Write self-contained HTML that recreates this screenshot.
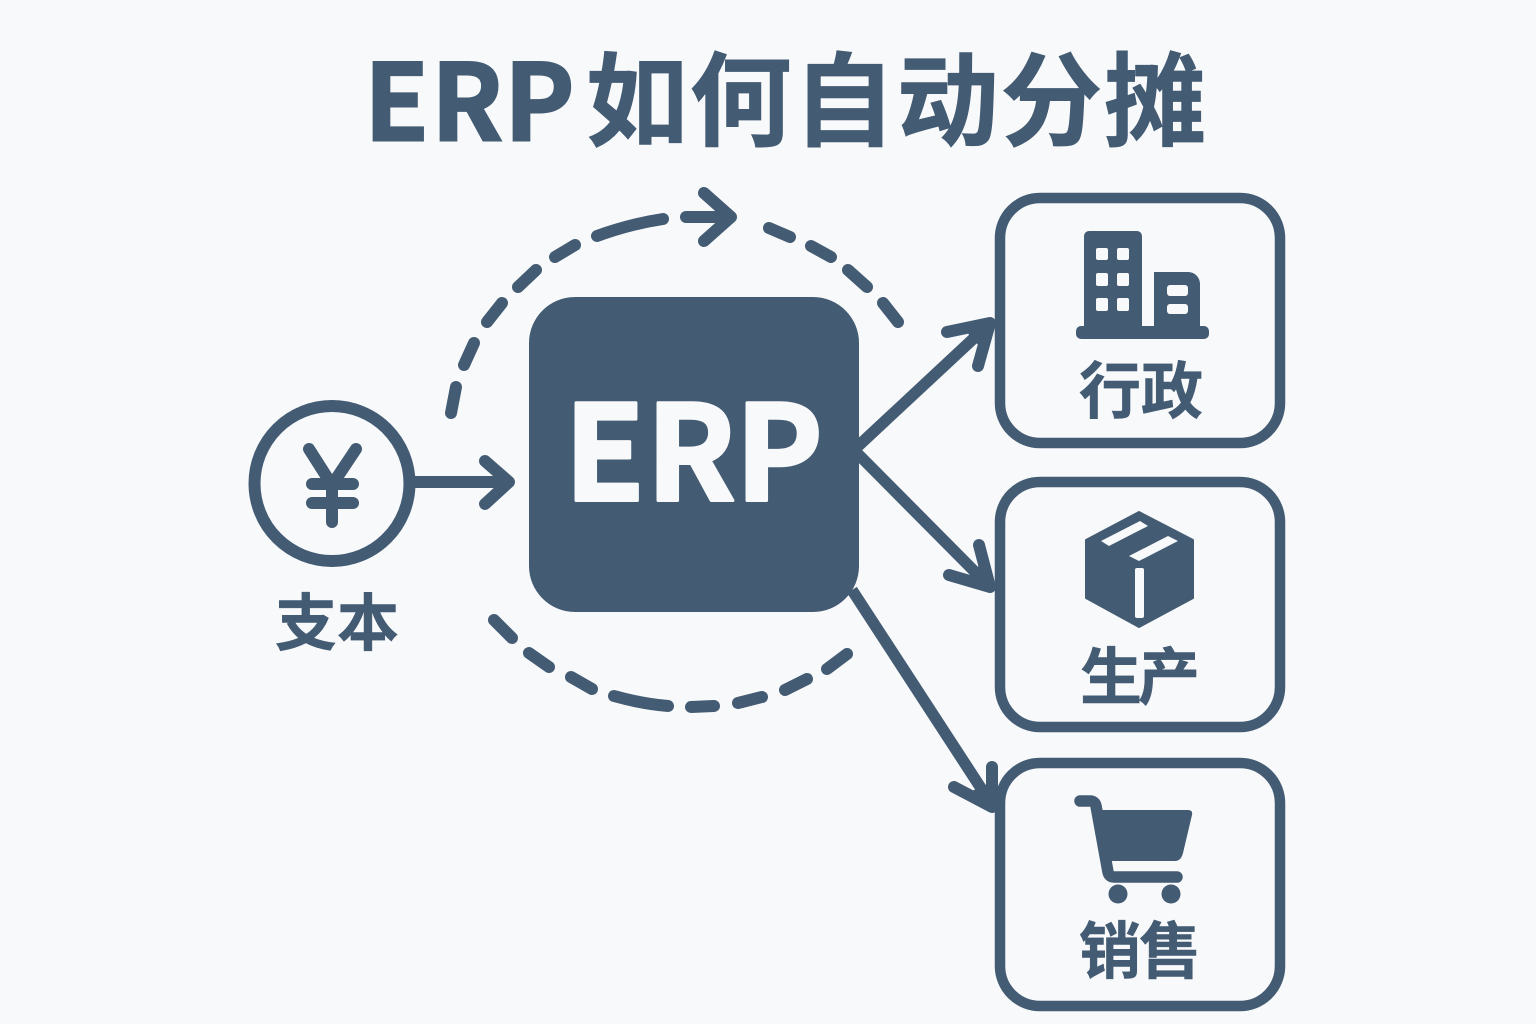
<!DOCTYPE html>
<html>
<head>
<meta charset="utf-8">
<style>
html,body{margin:0;padding:0;background:#f8f9fa;}
svg{display:block;}
text{font-family:"Noto Sans CJK SC","Liberation Sans",sans-serif;font-weight:700;fill:#435b73;stroke:#435b73;stroke-width:0.5;}
</style>
</head>
<body>
<svg width="1536" height="1024" viewBox="0 0 1536 1024" xmlns="http://www.w3.org/2000/svg">
<rect width="1536" height="1024" fill="#f8f9fa"/>
<!-- Title -->
<text y="140.5" font-size="106" x="364 431 504" style="stroke-width:2">ERP</text>
<text x="586" y="138" font-size="102" textLength="620" lengthAdjust="spacing" style="stroke-width:0.8">如何自动分摊</text>

<!-- ERP box -->
<rect x="529" y="297" width="330" height="315" rx="46" fill="#435b73"/>
<text y="500.5" font-size="132" x="564 646 735" style="fill:#f8f9fa;stroke:#f8f9fa;stroke-width:3;stroke-linejoin:round">ERP</text>

<!-- Yen circle -->
<circle cx="332" cy="483.5" r="77.5" fill="none" stroke="#435b73" stroke-width="12"/>
<g stroke="#435b73" stroke-width="12" fill="none" stroke-linecap="round" stroke-linejoin="round">
  <path d="M309 449L332 485L356 449M332 485V522M312 484H353M312 503H353"/>
</g>
<text x="337" y="645" font-size="62" text-anchor="middle" textLength="124" lengthAdjust="spacing">支本</text>

<g fill="none" stroke="#435b73" stroke-linecap="round" stroke-linejoin="round" stroke-width="12">
  <!-- input arrow -->
  <path d="M415 482H508"/>
  <path d="M485 461L509 482L485 504"/>
  <!-- upper arc dashes -->
  <path d="M451 413L456 387"/>
  <path d="M464 365L474 343"/>
  <path d="M487 322L502 303"/>
  <path d="M518 287L536 270"/>
  <path d="M555 257L575 245"/>
  <path d="M597 236Q630 224 663 219"/>
  <path d="M686 217H728"/>
  <path d="M704 193L731 217L704 241"/>
  <path d="M769 228L790 237"/>
  <path d="M811 246L831 257"/>
  <path d="M848 270L867 287"/>
  <path d="M883 303L898 322"/>
  <!-- lower arc dashes -->
  <path d="M494 620L512 638"/>
  <path d="M529 653L549 667"/>
  <path d="M571 677L592 689"/>
  <path d="M614 696Q643 704 668 706"/>
  <path d="M691 707L714 706"/>
  <path d="M738 703L762 697"/>
  <path d="M785 690L807 679"/>
  <path d="M827 669L847 654"/>
  <!-- outgoing arrows -->
  <path d="M855 449L987 326" stroke-linecap="butt" stroke-width="11.5"/>
  <path d="M947 332L990 323L978 366"/>
  <path d="M855 451L988 585" stroke-linecap="butt" stroke-width="11.5"/>
  <path d="M949 575L990 587L979 545"/>
  <path d="M852 590L990 802" stroke-linecap="butt" stroke-width="11.5"/>
  <path d="M954 787L992 807L992 767"/>
</g>

<!-- Right boxes -->
<g fill="#f8f9fa" stroke="#435b73" stroke-width="10.5">
  <rect x="1000" y="198" width="280" height="245" rx="40"/>
  <rect x="1000" y="482" width="280" height="245" rx="40"/>
  <rect x="1000" y="763" width="280" height="243" rx="40"/>
</g>
<!-- Filled arrow tips merging with the box edge -->
<g fill="#435b73" stroke="#435b73" stroke-linejoin="round" stroke-width="6">
  <path d="M968 329L992 323L985 348Z"/>
  <path d="M968 581L992 589L985 564Z"/>
  <path d="M970 795L994 809L993 785Z"/>
</g>

<!-- Building -->
<path d="M1084 328V236a5 5 0 0 1 5-5h48a5 5 0 0 1 5 5v92z" fill="#435b73"/>
<path d="M1154 328V272h34a12 12 0 0 1 12 12v44z" fill="#435b73"/>
<path d="M1142 326h12v6h-12z" fill="#435b73"/>
<path d="M1081 326H1204a5 5 0 0 1 5 5v3a5 5 0 0 1 -5 5H1081a5 5 0 0 1 -5 -5v-3a5 5 0 0 1 5 -5z" fill="#435b73"/>
<g fill="#f8f9fa">
  <rect x="1096" y="248" width="12" height="12" rx="2"/><rect x="1117" y="248" width="12" height="12" rx="2"/>
  <rect x="1096" y="273" width="12" height="13" rx="2"/><rect x="1117" y="273" width="12" height="13" rx="2"/>
  <rect x="1096" y="298" width="12" height="13" rx="2"/><rect x="1117" y="298" width="12" height="13" rx="2"/>
  <rect x="1167" y="285" width="21" height="11" rx="3"/><rect x="1167" y="304" width="21" height="10" rx="3"/>
</g>
<text x="1141" y="413" font-size="62" text-anchor="middle" textLength="124" lengthAdjust="spacing">行政</text>

<!-- Box icon -->
<path d="M1139 512L1193 540V598L1139 627L1086 598V540Z" fill="#435b73" stroke="#435b73" stroke-width="2" stroke-linejoin="round"/>
<path d="M1140 521L1148 526L1109 546L1101 541Z" fill="#f8f9fa"/>
<path d="M1168 536L1178 541L1139 561L1129 556Z" fill="#f8f9fa"/>
<rect x="1135" y="568" width="9" height="50" rx="2" fill="#f8f9fa"/>
<text x="1140" y="699" font-size="62" text-anchor="middle" textLength="120" lengthAdjust="spacing">生产</text>

<!-- Cart -->
<path d="M1080 801H1090Q1095 801 1096 806L1108 872Q1109 877 1114 877H1177" fill="none" stroke="#435b73" stroke-width="11.5" stroke-linecap="round" stroke-linejoin="round"/>
<path d="M1098 810H1188Q1193 810 1192 815L1183 853Q1181 861 1175 861H1108Z" fill="#435b73"/>
<circle cx="1118" cy="894" r="9.5" fill="#435b73"/>
<circle cx="1171" cy="894" r="9.5" fill="#435b73"/>
<text x="1140" y="973" font-size="62" text-anchor="middle" textLength="122" lengthAdjust="spacing">销售</text>
</svg>
</body>
</html>
